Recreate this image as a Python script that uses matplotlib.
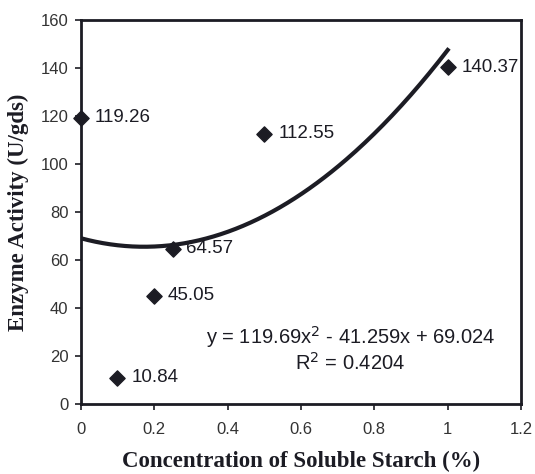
import numpy as np
import matplotlib.pyplot as plt

# concentration of soluble starch (%) vs enzyme activity (U/gds)
conc = [0, 0.1, 0.2, 0.25, 0.5, 1.0]
activity = [119.26, 10.84, 45.05, 64.57, 112.55, 140.37]
labels = ['119.26', '10.84', '45.05', '64.57', '112.55', '140.37']

# polynomial trendline coefficients
coef = [119.69, -41.259, 69.024]
eq_text = 'y = 119.69x$^2$ - 41.259x + 69.024'
r2_text = 'R$^2$ = 0.4204'

xticks = [0, 0.2, 0.4, 0.6, 0.8, 1, 1.2]
xtick_labels = ['0', '0.2', '0.4', '0.6', '0.8', '1', '1.2']
yticks = [0, 20, 40, 60, 80, 100, 120, 140, 160]

ink = '#1c1c24'

fig = plt.figure(figsize=(5.35, 4.74), dpi=100)
ax = fig.add_axes([0.151, 0.148, 0.823, 0.81])

xs = np.linspace(0, 1, 200)
ax.plot(xs, np.polyval(coef, xs), color=ink, lw=3, zorder=2)
ax.scatter(conc, activity, marker='D', s=60, color=ink, zorder=3, clip_on=False)

for x, y, t in zip(conc, activity, labels):
    ax.annotate(t, (x, y), xytext=(10, 0), textcoords='offset points',
                va='center', ha='left', fontsize=13.5, family='Liberation Sans', color=ink)

ax.text(0.735, 28, eq_text, ha='center', va='center', fontsize=14.5,
        family='Liberation Sans', color=ink)
ax.text(0.735, 17, r2_text, ha='center', va='center', fontsize=14.5,
        family='Liberation Sans', color=ink)

ax.set_xlim(0, 1.2)
ax.set_ylim(0, 160)
ax.set_xticks(xticks)
ax.set_xticklabels(xtick_labels)
ax.set_yticks(yticks)
for lbl in ax.get_xticklabels() + ax.get_yticklabels():
    lbl.set_family('Liberation Sans')
    lbl.set_fontsize(12)
    lbl.set_color('#333333')
ax.tick_params(direction='out', length=4, width=1.2, color=ink)
ax.tick_params(axis='x', pad=9)
ax.tick_params(axis='y', pad=5)

for s in ax.spines.values():
    s.set_linewidth(2)
    s.set_color(ink)

ax.set_xlabel('Concentration of Soluble Starch (%)', family='Liberation Serif',
              fontweight='bold', fontsize=16.5, labelpad=10, color=ink)
ax.set_ylabel('Enzyme Activity (U/gds)', family='Liberation Serif',
              fontweight='bold', fontsize=16.5, labelpad=8, color=ink)

fig.savefig('out.png', dpi=100)
